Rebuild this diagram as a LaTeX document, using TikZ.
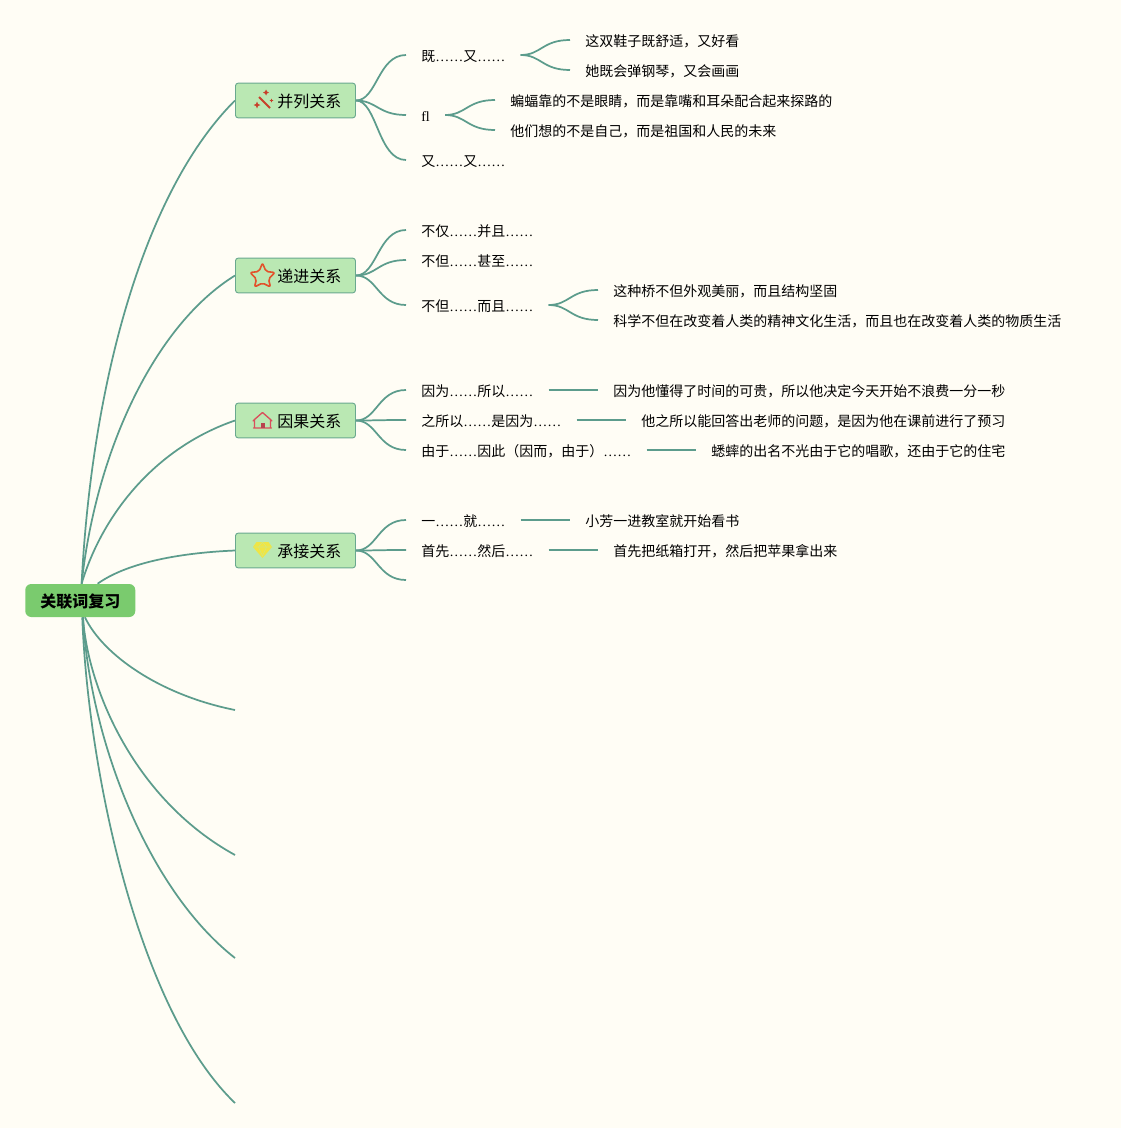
\documentclass[tikz,border=0pt]{standalone}
\usepackage{fontspec}
\setmainfont{Noto Sans CJK SC}
\newfontfamily\latinf{Liberation Serif}
\newcommand{\dd}{{\latinf ……}}
\pgfdeclarelayer{edges}
\pgfsetlayers{edges,main}
\definecolor{bgc}{HTML}{FFFDF5}
\definecolor{linkc}{HTML}{5C9C8C}
\definecolor{topicf}{HTML}{BAE8B3}
\definecolor{topicd}{HTML}{6AA88F}
\definecolor{rootf}{HTML}{7ACB6E}
\definecolor{wandc}{HTML}{C8402A}
\definecolor{starc}{HTML}{E2522B}
\definecolor{housec}{HTML}{D94F5C}
\definecolor{gemc}{HTML}{EFE545}
\tikzset{
  x=0.75pt,y=-0.75pt,
  link/.style={draw=linkc,line width=1.3pt},
  rootbox/.style={fill=rootf,rounded corners=4.5pt,minimum width=82.5pt,minimum height=24.75pt,inner xsep=0pt,inner ysep=0pt,font=\fontsize{12}{14}\selectfont\bfseries,anchor=west,text height=11.2pt,text depth=0pt},
  topicbox/.style={fill=topicf,draw=topicd,line width=0.7pt,rounded corners=2pt,minimum width=90pt,minimum height=26pt,inner xsep=0pt,inner ysep=0pt,font=\fontsize{12}{14}\selectfont,anchor=west,text height=10.5pt,text depth=0.5pt},
  leaf/.style={anchor=west,inner xsep=11.25pt,inner ysep=0pt,font=\fontsize{10.5}{12}\selectfont,text height=10.7pt,text depth=0.3pt},
}
\newcommand{\lk}[2]{\draw[link] (#1.east) .. controls +(21,0) and +(-28,0) .. (#2.west);}
\begin{document}
\begin{tikzpicture}
\useasboundingbox (0,0) rectangle (1121,1128);
\begin{pgfonlayer}{edges}
\fill[bgc] (0,0) rectangle (1121,1128);
\end{pgfonlayer}

% root and topics
\node[rootbox] (root) at (25,600.5) {关联词复习};
\node[topicbox] (t1) at (235,100.5) {\hspace*{31.5pt}并列关系\hspace*{10.5pt}};
\node[topicbox] (t2) at (235,275.5) {\hspace*{31.5pt}递进关系\hspace*{10.5pt}};
\node[topicbox] (t3) at (235,420.5) {\hspace*{31.5pt}因果关系\hspace*{10.5pt}};
\node[topicbox] (t4) at (235,550.5) {\hspace*{31.5pt}承接关系\hspace*{10.5pt}};

% free ends
\coordinate (e5) at (235,710);
\coordinate (e6) at (235,855);
\coordinate (e7) at (235,958);
\coordinate (e8) at (235,1103);
\coordinate (e9) at (406,580);

% group 1
\node[leaf] (a1) at (406,55) {既\dd 又\dd};
\node[leaf] (a2) at (406,115) {{\latinf fl}};
\node[leaf] (a3) at (406,160) {又\dd 又\dd};
\node[leaf] (a11) at (570,40) {这双鞋子既舒适，又好看};
\node[leaf] (a12) at (570,70) {她既会弹钢琴，又会画画};
\node[leaf] (a21) at (495,100) {蝙蝠靠的不是眼睛，而是靠嘴和耳朵配合起来探路的};
\node[leaf] (a22) at (495,130) {他们想的不是自己，而是祖国和人民的未来};
% group 2
\node[leaf] (b1) at (406,230) {不仅\dd 并且\dd};
\node[leaf] (b2) at (406,260) {不但\dd 甚至\dd};
\node[leaf] (b3) at (406,305) {不但\dd 而且\dd};
\node[leaf] (b31) at (598,290) {这种桥不但外观美丽，而且结构坚固};
\node[leaf] (b32) at (598,320) {科学不但在改变着人类的精神文化生活，而且也在改变着人类的物质生活};
% group 3
\node[leaf] (c1) at (406,390) {因为\dd 所以\dd};
\node[leaf] (c2) at (406,420) {之所以\dd 是因为\dd};
\node[leaf] (c3) at (406,450) {由于\dd 因此（因而，由于）\dd};
\node[leaf] (c11) at (598,390) {因为他懂得了时间的可贵，所以他决定今天开始不浪费一分一秒};
\node[leaf] (c21) at (626,420) {他之所以能回答出老师的问题，是因为他在课前进行了预习};
\node[leaf] (c31) at (696,450) {蟋蟀的出名不光由于它的唱歌，还由于它的住宅};
% group 4
\node[leaf] (d1) at (406,520) {一\dd 就\dd};
\node[leaf] (d2) at (406,550) {首先\dd 然后\dd};
\node[leaf] (d11) at (570,520) {小芳一进教室就开始看书};
\node[leaf] (d21) at (598,550) {首先把纸箱打开，然后把苹果拿出来};

\begin{pgfonlayer}{edges}
% root connectors
\draw[link] ([xshift=1pt]root.north) .. controls (92,380) and (145,190) .. (t1.west);
\draw[link] ([xshift=1pt]root.north) .. controls (96,450) and (155,325) .. (t2.west);
\draw[link] ([xshift=1pt]root.north) .. controls (102,515) and (155,448) .. (t3.west);
\draw[link] ([xshift=13pt]root.north) .. controls (125,564) and (175,553) .. (t4.west);
\draw[link] ([xshift=3.5pt]root.south) .. controls (103,655) and (160,695) .. (e5);
\draw[link] ([xshift=2pt]root.south) .. controls (88,690) and (135,800) .. (e6);
\draw[link] ([xshift=2pt]root.south) .. controls (90,740) and (148,890) .. (e7);
\draw[link] ([xshift=1.5pt]root.south) .. controls (88,770) and (138,1010) .. (e8);
% branches
\lk{t1}{a1}\lk{t1}{a2}\lk{t1}{a3}
\lk{a1}{a11}\lk{a1}{a12}\lk{a2}{a21}\lk{a2}{a22}
\lk{t2}{b1}\lk{t2}{b2}\lk{t2}{b3}
\lk{b3}{b31}\lk{b3}{b32}
\lk{t3}{c1}\lk{t3}{c2}\lk{t3}{c3}
\lk{c1}{c11}\lk{c2}{c21}\lk{c3}{c31}
\lk{t4}{d1}\lk{t4}{d2}
\draw[link] (t4.east) .. controls +(21,0) and +(-28,0) .. (e9);
\lk{d1}{d11}\lk{d2}{d21}
\end{pgfonlayer}

% icon: wand
\draw[wandc,line width=1.5pt] (259,97) -- (270,108);
\fill[wandc] (257,101.5) -- (258,104) -- (260.5,105) -- (258,106) -- (257,108.5) -- (256,106) -- (253.5,105) -- (256,104) -- cycle;
\fill[wandc] (266,89.5) -- (267,91.5) -- (269,92.5) -- (267,93.5) -- (266,95.5) -- (265,93.5) -- (263,92.5) -- (265,91.5) -- cycle;
\fill[wandc] (271.5,98.5) -- (272.2,100) -- (273.5,100.5) -- (272.2,101) -- (271.5,102.5) -- (270.8,101) -- (269.5,100.5) -- (270.8,100) -- cycle;
% icon: star
\draw[starc,line width=1.2pt,rounded corners=1.5pt,line join=round]
  (262.5,263) -- (266,271.5) -- (275,272.5) -- (268.5,279) -- (270.5,287) -- (262.5,283) -- (254.5,287) -- (256.5,279) -- (250,272.5) -- (259,271.5) -- cycle;
% icon: house
\draw[housec,line width=1pt,line join=round,line cap=round]
  (253.5,428) -- (271.5,428) (254.5,428) -- (254.5,419.5) -- (262.5,412.5) -- (270.5,419.5) -- (270.5,428)
  (253,421) -- (254.5,419.5) (272,421) -- (270.5,419.5);
\fill[housec!85!black] (260.5,428) -- (260.5,423) -- (264.5,423) -- (264.5,428) -- cycle;
% icon: gem
\fill[gemc] (256.5,542) -- (268.5,542) -- (272,547) -- (262.5,558) -- (253,547) -- cycle;
\draw[topicf!50!gemc,line width=0.4pt] (253,547) -- (272,547) (258.5,547) -- (262.5,556) -- (266.5,547) (258.5,547) -- (262.5,542) -- (266.5,547);
\end{tikzpicture}
\end{document}
